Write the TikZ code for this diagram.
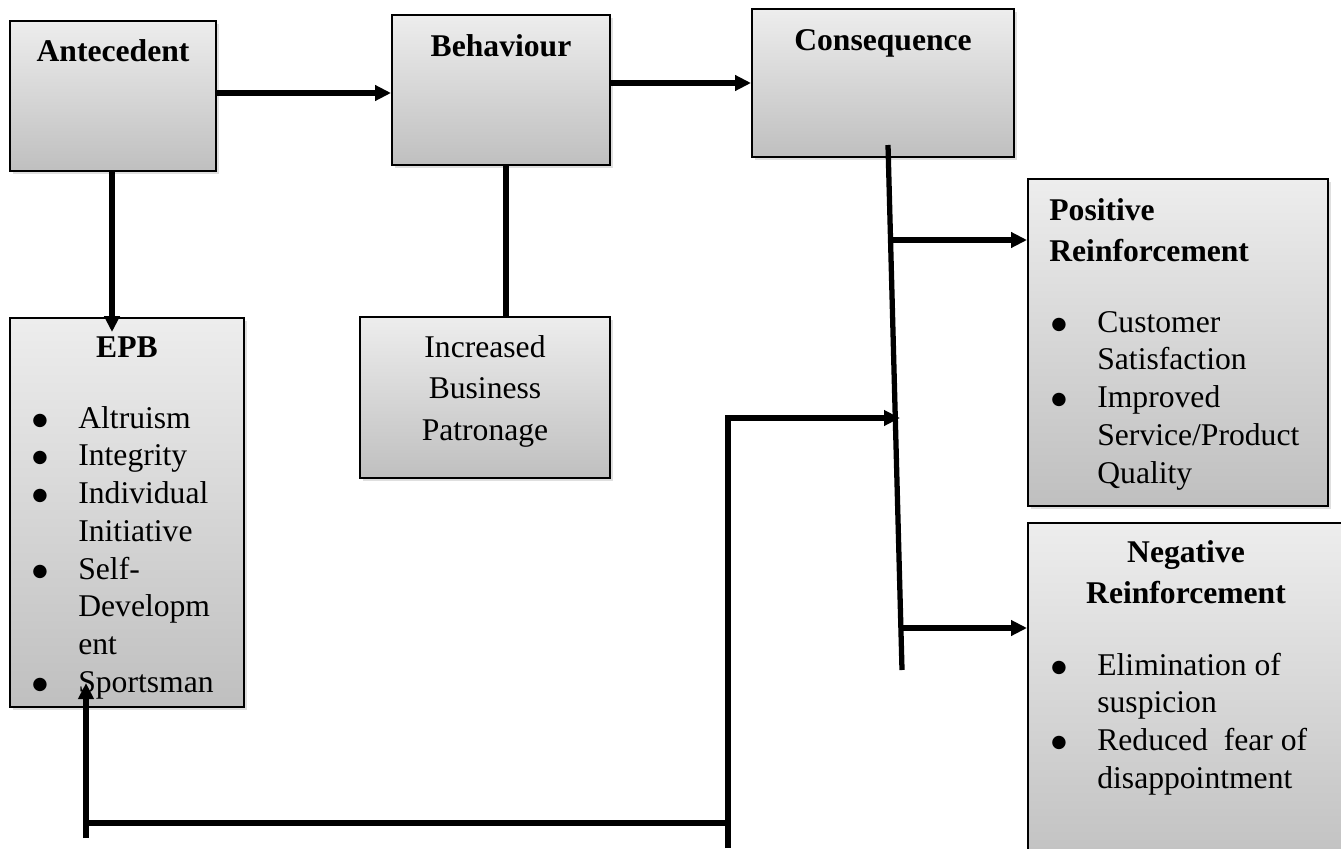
\documentclass[tikz,border=0pt]{standalone}
\usepackage{fontspec}
\setmainfont{Liberation Serif}
\newfontfamily\dotfont{DejaVu Sans}
\usetikzlibrary{
	positioning,  % relative placement
	arrows.meta,  % Triangle tips
	fit,          % boxes from corners
	shadows       % drop shadow of the boxes
}

% one bullet line and one follow-on line of a list
\newcommand{\bitem}[1]{\makebox[0.92cm][l]{\raisebox{1.6pt}{\dotfont\fontsize{10}{0}\selectfont ●}}#1}
\newcommand{\bmore}[1]{\hspace*{0.92cm}#1}

\tikzset{
	box/.style={draw=black, line width=1.1pt, inner sep=0pt,
		top color=gray!14, bottom color=gray!50,
		drop shadow={shadow xshift=0.06cm, shadow yshift=-0.06cm, opacity=0.25}},
	title/.style={font=\fontsize{18}{23.8}\selectfont\bfseries, inner sep=0pt, anchor=base},
	plain/.style={font=\fontsize{18}{23.8}\selectfont, inner sep=0pt, anchor=base},
	items/.style={font=\fontsize{18}{21.5}\selectfont, inner sep=0pt, anchor=base west},
	link/.style={line width=3pt},
	arr/.style={link, -{Triangle[length=0.32cm, width=0.3cm]}},
}

\begin{document}
\begin{tikzpicture}[x=0.02cm, y=-0.02cm]
	\useasboundingbox (0,0) rectangle (1341,848);
	\clip (0,0) rectangle (1341,848);

	% --- Boxes ---
	\node[box, fit={(10,21) (216,171)}] (ante) {};
	\node[box, fit={(392,15) (610,165)}] (behav) {};
	\node[box, fit={(752,9) (1014,157)}] (conseq) {};
	\node[box, fit={(10,318) (244,707)}] (epb) {};
	\node[box, fit={(360,317) (610,478)}] (incr) {};
	\node[box, fit={(1028,179) (1328,506)}] (pos) {};
	\node[box, fit={(1028,523) (1344,880)}] (neg) {};

	% --- Titles ---
	\node[title] (antetxt) at (113,62) {Antecedent};
	\node[title] (behavtxt) at (501,57) {Behaviour};
	\node[title] (conseqtxt) at (883,51) {Consequence};
	\node[title] (epbtxt) at (127,357) {EPB};
	\node[title, anchor=base west] (postxt) at (1049,220)
		{\parbox[t]{5.5cm}{Positive\\Reinforcement}};
	\node[title] (negtxt) at (1186,562)
		{\parbox[t]{5.5cm}{\centering Negative\\Reinforcement}};
	\node[plain] (incrtxt) at (485,357)
		{\parbox[t]{4.5cm}{\centering Increased\\Business\\Patronage}};

	% --- Lists ---
	\node[items] (epblist) at (32,428) {\parbox[t]{4.6cm}{%
		\bitem{Altruism}\\
		\bitem{Integrity}\\
		\bitem{Individual}\\
		\bmore{Initiative}\\
		\bitem{Self-}\\
		\bmore{Developm}\\
		\bmore{ent}\\
		\bitem{Sportsman}}};
	\node[items] (poslist) at (1051,332) {\parbox[t]{5.8cm}{%
		\bitem{Customer}\\
		\bmore{Satisfaction}\\
		\bitem{Improved}\\
		\bmore{Service/Product}\\
		\bmore{Quality}}};
	\node[items] (neglist) at (1051,675) {\parbox[t]{5.8cm}{%
		\bitem{Elimination of}\\
		\bmore{suspicion}\\
		\bitem{Reduced\ \ fear of}\\
		\bmore{disappointment}}};

	% --- Connectors ---
	\draw[arr] ([yshift=0.06cm]ante.east) -- ([yshift=0.06cm]ante.east -| behav.west);
	\draw[arr] ([yshift=0.14cm]behav.east) -- ([yshift=0.14cm]behav.east -| conseq.west);
	\draw[arr] ([xshift=-0.02cm]ante.south) -- ([xshift=-0.02cm,yshift=-0.3cm]ante.south |- epb.north);
	\draw[link] ([xshift=0.1cm]behav.south) -- ([xshift=0.1cm]behav.south |- incr.north);

	% sloping line out of Consequence
	\coordinate (ctop) at (888,145);
	\coordinate (cbot) at (902,670);
	\coordinate (cpos) at (890,240);
	\coordinate (cneg) at (901,628);
	\draw[link] (ctop) -- (cbot);
	\draw[arr] (cpos) -- (cpos -| pos.west);
	\draw[arr] (cneg) -- (cneg -| neg.west);

	% feedback loop
	\coordinate (fbfoot) at (728,848);
	\coordinate (fbtop) at (728,418);
	\coordinate (fbend) at (900,418);
	\coordinate (fbjoin) at (728,823);
	\coordinate (fbcorner) at (86,823);
	\coordinate (fbtail) at (86,838);
	\coordinate (fbtip) at (86,683);
	\draw[arr] (fbfoot) -- (fbtop) -- (fbend);
	\draw[link] (fbjoin) -- (fbcorner);
	\draw[arr] (fbtail) -- (fbtip);
\end{tikzpicture}
\end{document}
